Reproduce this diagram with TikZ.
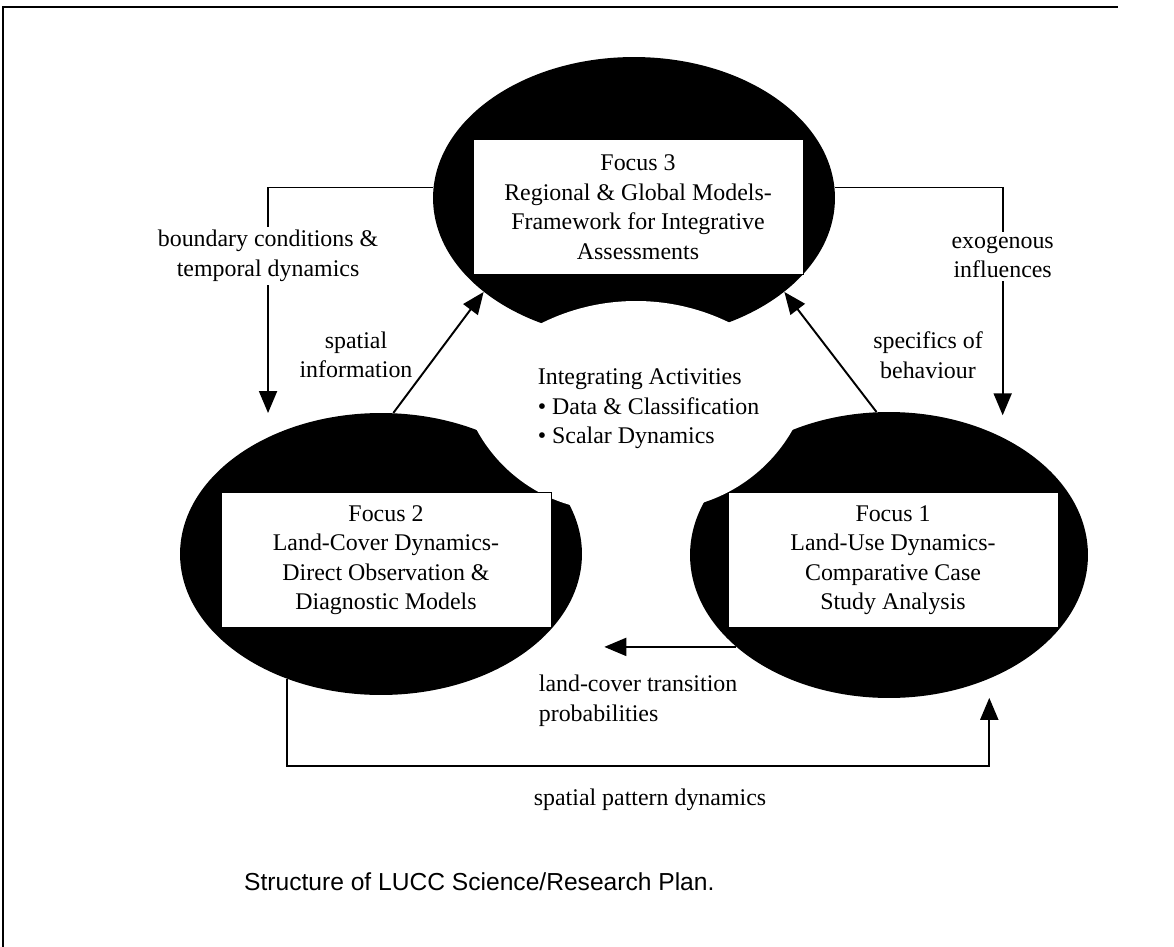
\documentclass[tikz,border=0pt]{standalone}
\usepackage{fontspec}
\setmainfont{Liberation Serif}
\newfontfamily\capfont{Liberation Sans}
\usetikzlibrary{positioning,shapes.geometric,arrows.meta}
\tikzstyle{blob} = [ellipse, fill=black, inner sep=0pt, minimum width=8.04cm, minimum height=5.64cm]
\tikzstyle{focus} = [rectangle, fill=white, draw=black, minimum width=6.6cm, minimum height=2.7cm, text centered, align=center, font=\fontsize{13.6}{16.8}\selectfont]
\tikzstyle{lbl} = [align=center, inner sep=2pt, font=\fontsize{13.6}{16.8}\selectfont]
\tikzstyle{wire} = [line width=1.1pt]
\tikzstyle{arrow} = [wire, -{Triangle[length=0.44cm, width=0.36cm]}]

\begin{document}
\begin{tikzpicture}[x=0.02cm, y=-0.02cm, node distance=1cm]
  \useasboundingbox (0,0) rectangle (1174,947);
  % frame
  \draw [line width=1.7pt] (3,947) -- (3,7) -- (1118,7);
  % the three foci
  \node (b3) [blob] at (634,198) {};
  \node (b2) [blob] at (381,554) {};
  \node (b1) [blob, minimum width=7.96cm, minimum height=5.72cm] at (889,555) {};
  % bites towards the middle
  \begin{scope}
    \clip (634,198) ellipse (204 and 144);
    \fill [white] (636,513) circle (212);
  \end{scope}
  \begin{scope}
    \clip (381,554) ellipse (204 and 144);
    \fill [white] (613,356) circle (155);
  \end{scope}
  \begin{scope}
    \clip (889,555) ellipse (202 and 146);
    \fill [white] (655,352) circle (158);
  \end{scope}
  \node (f3) [focus] at (638,207) {Focus 3\\Regional \& Global Models-\\Framework for Integrative\\Assessments};
  \node (f2) [focus] at (386,560) {Focus 2\\Land-Cover Dynamics-\\Direct Observation \&\\Diagnostic Models};
  \node (f1) [focus] at (893,560) {Focus 1\\Land-Use Dynamics-\\Comparative Case\\Study Analysis};
  % connectors
  \draw [arrow, shorten >=0.48cm] (b3.177) -| node[lbl, pos=0.637, fill=white] {boundary conditions \&\\temporal dynamics} (b2.134);
  \draw [arrow, shorten >=0.44cm] (b3.3) -| node[lbl, pos=0.639, fill=white] {exogenous\\influences} (b1.46);
  \draw [arrow] (b2.85) -- (b3.212);
  \draw [arrow] (b1.95) -- (b3.328);
  \draw [arrow, shorten >=0.44cm] (b1.211) -- (b1.211 -| b2.east);
  \coordinate (low) at (650,766);
  \draw [arrow, shorten >=0.38cm] (b2.233) |- (low) -| (b1.309);
  % labels
  \node (lsi) [lbl] at (356,355) {spatial\\information};
  \node (lsb) [lbl] at (928,355) {specifics of\\behaviour};
  \node (llc) [lbl, align=left, anchor=west] at (535,701) {land-cover transition\\probabilities};
  \node (lia) [lbl, align=left, anchor=west] at (534,409) {Integrating Activities\\\textbullet{} Data \& Classification\\\textbullet{} Scalar Dynamics};
  \node (lpd) [lbl, below=0.38cm of low] {spatial pattern dynamics};
  \node (cap) [anchor=west, font=\capfont\fontsize{14}{16}\selectfont] at (238,882) {Structure of LUCC Science/Research Plan.};
\end{tikzpicture}
\end{document}
